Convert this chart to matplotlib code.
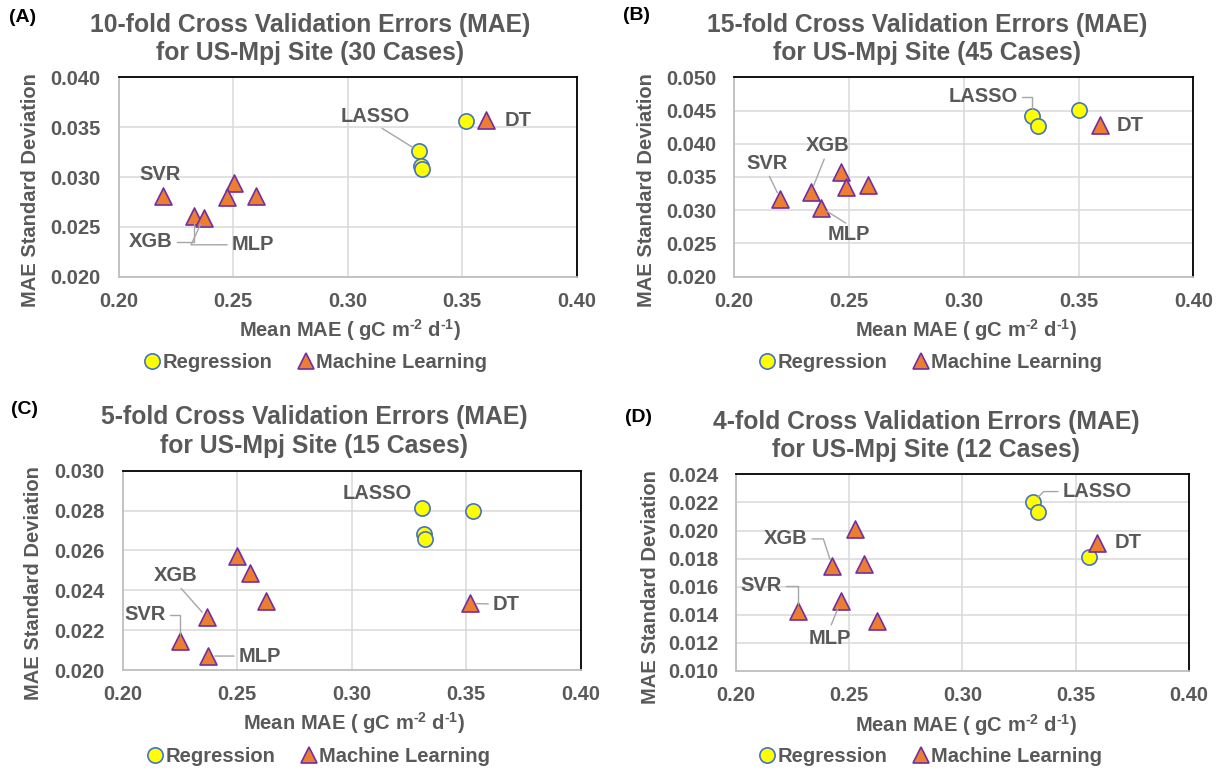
import matplotlib
matplotlib.use("Agg")
import matplotlib.pyplot as plt
from matplotlib.lines import Line2D

plt.rcParams['font.family'] = ['Liberation Sans', 'DejaVu Sans']
plt.rcParams['font.weight'] = 'bold'
plt.rcParams['mathtext.fontset'] = 'custom'
plt.rcParams['mathtext.rm'] = 'Liberation Sans:bold'
plt.rcParams['mathtext.bf'] = 'Liberation Sans:bold'
plt.rcParams['mathtext.it'] = 'Liberation Sans:bold'

# ---------------- data ----------------
titles = ["10-fold Cross Validation Errors (MAE)\nfor US-Mpj Site (30 Cases)",
          "15-fold Cross Validation Errors (MAE)\nfor US-Mpj Site (45 Cases)",
          "5-fold Cross Validation Errors (MAE)\nfor US-Mpj Site (15 Cases)",
          "4-fold Cross Validation Errors (MAE)\nfor US-Mpj Site (12 Cases)"]
panel_tags = ["(A)", "(B)", "(C)", "(D)"]
x_ticks = [0.20, 0.25, 0.30, 0.35, 0.40]
y_ticks_A = [0.020, 0.025, 0.030, 0.035, 0.040]
y_ticks_B = [0.020, 0.025, 0.030, 0.035, 0.040, 0.045, 0.050]
y_ticks_C = [0.020, 0.022, 0.024, 0.026, 0.028, 0.030]
y_ticks_D = [0.010, 0.012, 0.014, 0.016, 0.018, 0.020, 0.022, 0.024]

A_reg_x = [0.3516, 0.3310, 0.3322, 0.3325]
A_reg_y = [0.0356, 0.0326, 0.0311, 0.0308]
A_ml_x = [0.3604, 0.2192, 0.2503, 0.2475, 0.2598, 0.2331, 0.2371]
A_ml_y = [0.0357, 0.0281, 0.0294, 0.0280, 0.0281, 0.0261, 0.0259]

B_reg_x = [0.3503, 0.3298, 0.3324]
B_reg_y = [0.0451, 0.0442, 0.0427]
B_ml_x = [0.3593, 0.2201, 0.2334, 0.2378, 0.2467, 0.2486, 0.2584]
B_ml_y = [0.0428, 0.0317, 0.0327, 0.0304, 0.0358, 0.0335, 0.0338]

C_reg_x = [0.3308, 0.3529, 0.3317, 0.3320]
C_reg_y = [0.02811, 0.02799, 0.02681, 0.02657]
C_ml_x = [0.2500, 0.2556, 0.2628, 0.2368, 0.2251, 0.2373, 0.3515]
C_ml_y = [0.02570, 0.02488, 0.02346, 0.02264, 0.02145, 0.02070, 0.02334]

D_reg_x = [0.3312, 0.3334, 0.3559]
D_reg_y = [0.02201, 0.02130, 0.01809]
D_ml_x = [0.3594, 0.2527, 0.2424, 0.2565, 0.2462, 0.2273, 0.2624]
D_ml_y = [0.01914, 0.02008, 0.01747, 0.01762, 0.01498, 0.01430, 0.01358]

series_names = ["Regression", "Machine Learning"]
x_label = r"Mean MAE ( gC m$^{\text{-}2}$ d$^{\text{-}1}$)"
y_label = "MAE Standard Deviation"

# point labels: (text, series, index)
A_labels = [("LASSO", "reg", 1), ("DT", "ml", 0), ("SVR", "ml", 1), ("XGB", "ml", 5), ("MLP", "ml", 6)]
B_labels = [("LASSO", "reg", 1), ("DT", "ml", 0), ("XGB", "ml", 2), ("SVR", "ml", 1), ("MLP", "ml", 3)]
C_labels = [("LASSO", "reg", 0), ("XGB", "ml", 3), ("SVR", "ml", 4), ("MLP", "ml", 5), ("DT", "ml", 6)]
D_labels = [("LASSO", "reg", 0), ("DT", "ml", 0), ("XGB", "ml", 2), ("SVR", "ml", 5), ("MLP", "ml", 4)]

# ---------------- layout / style ----------------
W, H = 1223, 771
TXT = "#595959"
GRID = "#D9D9D9"
LEAD = "#A6A6A6"

# label placement (text position in data coords, leader style, leader start relpos)
A_place = [((0.312, 0.03605), "arc3", (0.55, 0)), ((0.3746, 0.0357), None, None),
           ((0.218, 0.0303), None, None), ((0.2142, 0.0235), "angle,angleA=0,angleB=90,rad=0", (1, 0.5)),
           ((0.2585, 0.0232), "angle,angleA=0,angleB=65,rad=0", (0, 0.5))]
B_place = [((0.3085, 0.0471), "angle,angleA=0,angleB=90,rad=0", (1, 0.5)), ((0.3724, 0.0427), None, None),
           ((0.2408, 0.0397), "arc3", (0.45, 0)), ((0.2145, 0.0371), "arc3", (0.5, 0)),
           ((0.2501, 0.0263), "arc3", (0.5, 1))]
C_place = [((0.3111, 0.02886), None, None), ((0.2234, 0.02473), "arc3", (0.55, 0)),
           ((0.2097, 0.02276), "angle,angleA=0,angleB=90,rad=0", (1, 0.5)),
           ((0.2598, 0.0207), "arc3", (0, 0.5)), ((0.3674, 0.02331), "arc3", (0, 0.5))]
D_place = [((0.3594, 0.02277), "angle,angleA=0,angleB=45,rad=0", (0, 0.5)), ((0.3732, 0.01914), None, None),
           ((0.2220, 0.0194), "angle,angleA=0,angleB=108,rad=0", (1, 0.5)),
           ((0.2111, 0.01605), "angle,angleA=0,angleB=90,rad=0", (1, 0.5)),
           ((0.2413, 0.01233), "arc3", (0.5, 1))]

# pixel geometry
geo = [
    dict(ax=(118.6, 576.7, 77.3, 276.7), tx=310, ty=(25, 52.7), tag=(23, 18),
         yl=(30.6, 190), xl=(350, 330), lg=(316, 363)),
    dict(ax=(734.3, 1193.3, 77.3, 276.7), tx=927, ty=(25, 52.7), tag=(637, 16),
         yl=(647, 190), xl=(966, 330), lg=(931, 363)),
    dict(ax=(122.5, 580.6, 470.7, 670.0), tx=314, ty=(416.7, 446), tag=(24, 410),
         yl=(33.7, 583), xl=(354, 723), lg=(319, 757)),
    dict(ax=(736.3, 1188.6, 474.3, 671.0), tx=926, ty=(421.7, 450), tag=(639, 417),
         yl=(651, 587), xl=(966, 725), lg=(931, 757)),
]

panels = [
    (A_reg_x, A_reg_y, A_ml_x, A_ml_y, y_ticks_A, A_labels, A_place),
    (B_reg_x, B_reg_y, B_ml_x, B_ml_y, y_ticks_B, B_labels, B_place),
    (C_reg_x, C_reg_y, C_ml_x, C_ml_y, y_ticks_C, C_labels, C_place),
    (D_reg_x, D_reg_y, D_ml_x, D_ml_y, y_ticks_D, D_labels, D_place),
]

FS = 14.5
fig = plt.figure(figsize=(W / 100, H / 100), dpi=100)
fig.patch.set_facecolor("white")

reg_style = dict(marker="o", s=120, facecolor="#FFFF00", edgecolor="#4472C4", linewidth=1.2, zorder=4)
ml_style = dict(marker="^", s=150, facecolor="#ED7D31", edgecolor="#7030A0", linewidth=1.2, zorder=4)

for i, (rx, ry, mx, my, yt, labels, place) in enumerate(panels):
    g = geo[i]
    l, r, t, b = g["ax"]
    ax = fig.add_axes([l / W, 1 - b / H, (r - l) / W, (b - t) / H])
    ax.scatter(rx, ry, **reg_style)
    ax.scatter(mx, my, **ml_style)
    ax.set_xlim(x_ticks[0], x_ticks[-1])
    ax.set_ylim(yt[0], yt[-1])
    ax.set_xticks(x_ticks)
    ax.set_yticks(yt)
    ax.set_xticklabels([f"{v:.2f}" for v in x_ticks])
    ax.set_yticklabels([f"{v:.3f}" for v in yt])
    ax.tick_params(length=0, labelsize=FS, labelcolor=TXT)
    ax.tick_params(axis="y", pad=13)
    ax.tick_params(axis="x", pad=11)
    ax.grid(True, color=GRID, lw=1.1, zorder=0)
    ax.set_axisbelow(True)
    for s in ["top", "right"]:
        ax.spines[s].set_color("black")
        ax.spines[s].set_linewidth(1.3)
    for s in ["left", "bottom"]:
        ax.spines[s].set_color("#BFBFBF")
        ax.spines[s].set_linewidth(1.3)

    for (name, ser, idx), ((tx, ty), cs, rp) in zip(labels, place):
        px = rx[idx] if ser == "reg" else mx[idx]
        py = ry[idx] if ser == "reg" else my[idx]
        if cs is None:
            ax.text(tx, ty, name, ha="center", va="center", fontsize=FS, color=TXT,
                    fontweight="bold", zorder=5)
        else:
            ax.annotate(name, xy=(px, py), xytext=(tx, ty), textcoords="data",
                        ha="center", va="center", fontsize=FS, color=TXT, fontweight="bold",
                        zorder=5,
                        arrowprops=dict(arrowstyle="-", color=LEAD, lw=1.0, shrinkA=3,
                                        shrinkB=5, connectionstyle=cs, relpos=rp,
                                        patchA=None))

    title_lines = titles[i].split("\n")
    for line, yy in zip(title_lines, g["ty"]):
        fig.text(g["tx"] / W, 1 - yy / H, line, ha="center", va="center", fontsize=17.8,
                 color=TXT, fontweight="bold")
    fig.text(g["tag"][0] / W, 1 - g["tag"][1] / H, panel_tags[i], ha="center", va="center",
             fontsize=14, color="black", fontweight="bold")
    fig.text(g["yl"][0] / W, 1 - g["yl"][1] / H, y_label, ha="center", va="center",
             rotation=90, fontsize=FS, color=TXT, fontweight="bold")
    fig.text(g["xl"][0] / W, 1 - g["xl"][1] / H, x_label, ha="center", va="center",
             fontsize=FS, color=TXT, fontweight="bold")

    handles = [Line2D([], [], marker="o", ls="none", markersize=11, markerfacecolor="#FFFF00",
                      markeredgecolor="#4472C4", markeredgewidth=1.2),
               Line2D([], [], marker="^", ls="none", markersize=12, markerfacecolor="#ED7D31",
                      markeredgecolor="#7030A0", markeredgewidth=1.2)]
    leg = fig.legend(handles, series_names, loc="center",
                     bbox_to_anchor=(g["lg"][0] / W, 1 - g["lg"][1] / H), ncol=2, frameon=False,
                     handlelength=0.7, handletextpad=0.15, columnspacing=1.3,
                     prop={"size": FS, "weight": "bold"}, borderpad=0, borderaxespad=0)
    for txt in leg.get_texts():
        txt.set_color(TXT)

fig.savefig("out.png", dpi=100, facecolor="white")
